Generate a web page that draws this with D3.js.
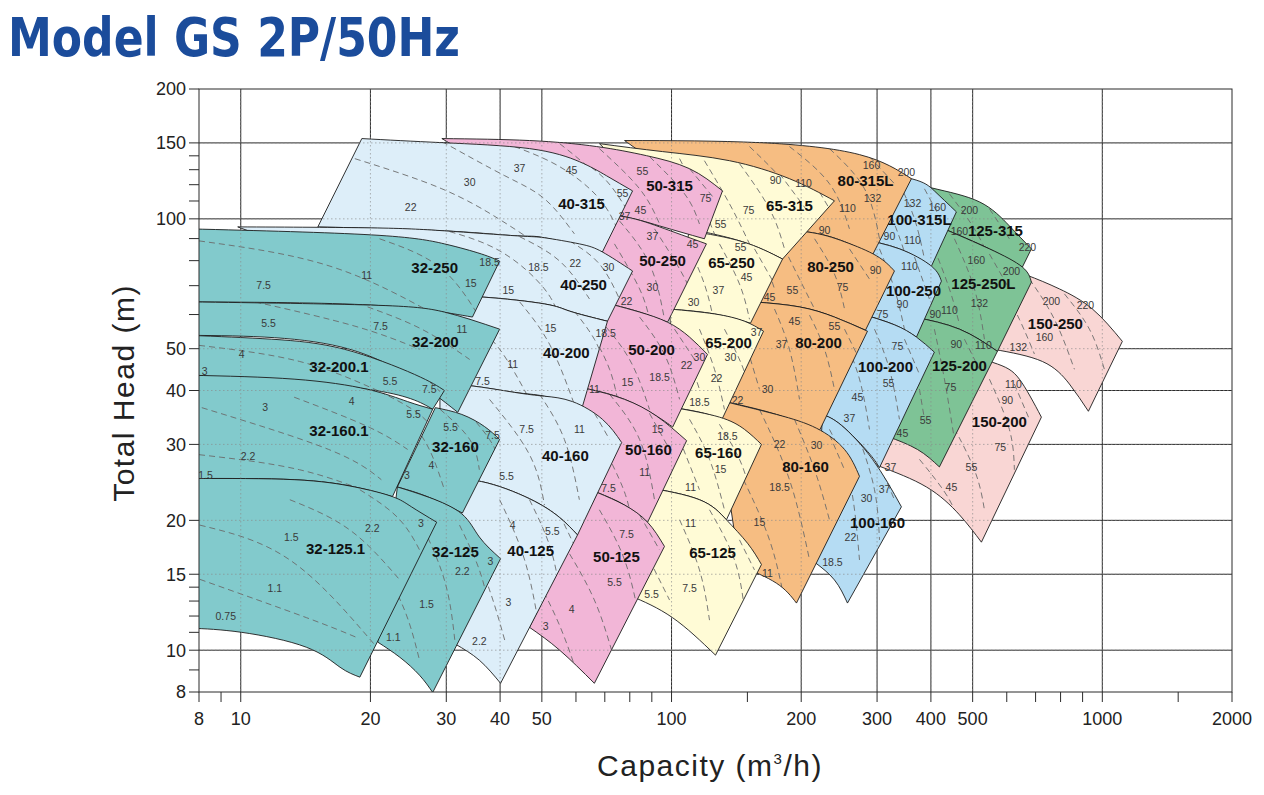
<!DOCTYPE html>
<html>
<head>
<meta charset="utf-8">
<title>Model GS 2P/50Hz</title>
<script src="https://cdn.jsdelivr.net/npm/d3@7"></script>
<style>
  body { margin: 0; background: #fff; }
</style>
</head>
<body>
<svg id="chart" width="1264" height="795"></svg>
<script>
// axis ticks (m3/h and m)
const xTicks = [8, 10, 20, 30, 40, 50, 100, 200, 300, 400, 500, 1000, 2000];
const xMinor = [9, 60, 70, 80, 90, 150, 600, 700, 800, 900, 1500];
const xGrid = [10, 20, 30, 40, 50, 100, 200, 300, 400, 500, 1000];
const yTicks = [8, 10, 15, 20, 30, 40, 50, 100, 150, 200];
const yMinor = [9, 11, 12, 13, 14, 60, 70, 80, 90, 110, 120, 130, 140];
const yGrid = [10, 15, 20, 30, 40, 50, 100, 150];

// each pump: top curve, bottom curve (left -> right, last point = lower right corner),
// label point, motor kW marks and dashed kW lines, all in [Q m3/h, H m]
const fam32 = [
  { name: "32-250", at: [28.2, 76.9],
    top: [[7.6, 94.8], [20.1, 91.8], [29.7, 87.5], [36.2, 82.9], [39.9, 79.8]],
    bottom: [[7.6, 64.2], [20.1, 63.1], [34.5, 59.2]],
    kw: [["7.5", 11.3, 70.2], ["11", 19.6, 74.1], ["15", 34.2, 71.0], ["18.5", 37.8, 79.4]],
    dash: [[[8.0, 88.9], [16.1, 77.7], [28.95, 59.2]], [[21.0, 89.9], [28.95, 77.3], [35.8, 59.2]]] },
  { name: "32-200", at: [28.3, 52.0],
    top: [[7.6, 64.2], [20.1, 63.1], [29.7, 60.8], [39.9, 55.5]],
    bottom: [[7.6, 53.7], [17.9, 49.85], [31.9, 35.6]],
    kw: [["5.5", 11.6, 57.3], ["7.5", 21.1, 56.4], ["11", 32.6, 55.5]],
    dash: [[[10.8, 64.2], [18.4, 56.4], [26.0, 49.85]], [[19.7, 62.5], [26.3, 55.5], [34.0, 47.2]]] },
  { name: "32-200.1", at: [16.9, 45.5],
    top: [[7.6, 53.7], [11.8, 52.6], [17.4, 49.85], [25.3, 43.6], [29.7, 40.0]],
    bottom: [[7.6, 43.4], [19.7, 40.25], [27.9, 36.2]],
    kw: [["4", 10.05, 48.5], ["3", 8.25, 44.3], ["5.5", 22.2, 42.0], ["7.5", 27.4, 40.25]],
    dash: [[[8.0, 50.9], [13.7, 46.7], [21.0, 39.8]], [[13.7, 53.2], [22.2, 47.8], [29.0, 39.8]]] },
  { name: "32-160.1", at: [16.9, 32.2],
    top: [[7.6, 43.4], [13.3, 42.5], [19.7, 40.25], [24.4, 37.7], [27.9, 36.2]],
    bottom: [[7.6, 25.0], [13.3, 24.85], [18.4, 23.9], [22.5, 22.7]],
    kw: [["3", 11.4, 36.5], ["4", 18.1, 37.7], ["5.5", 25.2, 35.2], ["2.2", 10.4, 28.1], ["1.5", 8.29, 25.4]],
    dash: [[[8.12, 36.5], [16.0, 29.2], [21.2, 24.85]], [[13.3, 38.6], [19.7, 33.0], [24.4, 29.2]],
           [[21.0, 39.8], [26.0, 35.2], [29.0, 30.8]], [[8.0, 28.4], [13.7, 26.2], [21.0, 22.7]]] },
  { name: "32-160", at: [31.5, 29.7],
    top: [[28.3, 36.5], [32.6, 35.2], [36.8, 33.0], [39.9, 30.8]],
    bottom: [[23.1, 23.9], [27.1, 22.7], [32.7, 20.8]],
    kw: [["5.5", 30.7, 32.9], ["7.5", 38.4, 31.5], ["4", 27.7, 26.8], ["3", 24.3, 25.5]],
    dash: [[[29.0, 36.2], [34.0, 30.8], [35.8, 26.2]], [[24.7, 34.3], [27.4, 29.2], [29.7, 23.55]],
           [[34.0, 35.2], [37.8, 30.8], [39.9, 27.7]]] },
  { name: "32-125", at: [31.5, 16.9],
    top: [[23.1, 23.9], [27.4, 22.6], [32.6, 20.7], [35.8, 18.3], [40.1, 16.3]],
    bottom: [[20.8, 10.44], [23.4, 9.63], [26.0, 8.75], [27.9, 7.98]],
    kw: [["2.2", 32.7, 15.2], ["1.5", 27.0, 12.8], ["1.1", 22.6, 10.7], ["3", 38.0, 16.1]],
    dash: [[[21.0, 16.19], [24.0, 12.39], [26.0, 9.48]], [[26.0, 20.06], [29.7, 14.55], [31.4, 10.55]],
           [[32.2, 19.5], [35.8, 15.35], [37.8, 12.39]]] },
  { name: "32-125.1", at: [16.6, 17.2],
    top: [[7.6, 25.0], [13.3, 24.85], [18.4, 23.9], [22.5, 22.7], [24.9, 21.5], [28.5, 19.8]],
    bottom: [[7.6, 11.25], [10.05, 11.0], [14.2, 10.16], [17.0, 9.13], [18.9, 8.66]],
    kw: [["1.5", 13.1, 18.3], ["2.2", 20.2, 19.2], ["3", 26.2, 19.7], ["1.1", 12.0, 13.9], ["0.75", 9.23, 12.0]],
    dash: [[[8.03, 14.6], [14.2, 11.9], [18.6, 10.7]], [[8.03, 19.5], [13.0, 16.19], [20.5, 10.27]],
           [[13.0, 22.33], [17.9, 19.01], [23.4, 14.55]], [[18.9, 23.55], [23.4, 20.06], [26.7, 16.19]]] }
];

const fam40 = [
  { name: "40-315", at: [61.8, 108.4],
    top: [[19.1, 153.5], [29.3, 150.2], [46.8, 145.5], [61.1, 135.7], [70.6, 125.9], [81.2, 116.1]],
    bottom: [[15.1, 95.8], [29.7, 93.8], [43.9, 91.3], [50.7, 90.4], [69.1, 83.8]],
    kw: [["22", 24.8, 106.1], ["30", 34.0, 121.3], ["37", 44.4, 130.7], ["45", 58.6, 129.3], ["55", 77.0, 114.3]],
    dash: [[[18.4, 137.9], [29.3, 117.4], [39.7, 100], [46.8, 89.9]], [[29.3, 151.1], [41.0, 125.9], [50.7, 111.3], [59.5, 92.3]],
           [[43.2, 147.1], [55.0, 132.1], [68.0, 111.3], [75.7, 92.3]], [[59.5, 139.4], [69.9, 123.9], [79.9, 102.7]]] },
  { name: "40-250", at: [62.5, 70.2],
    top: [[9.84, 95.8], [20.1, 95.3], [29.7, 93.8], [43.9, 91.3], [50.7, 90.4], [61.1, 87.5], [69.1, 83.8], [81.2, 75.7]],
    bottom: [[26.0, 66.6], [36.2, 65.9], [50.7, 63.5], [58.0, 61.1], [71.0, 57.9]],
    kw: [["15", 41.8, 68.1], ["18.5", 49.1, 77.3], ["22", 59.8, 79.0], ["30", 71.4, 77.3]],
    dash: [[[29.0, 94.8], [39.9, 84.3], [50.7, 68.8], [55.0, 58.5]], [[44.4, 90.9], [55.0, 79.8], [64.5, 65.2]],
           [[58.0, 88.9], [68.0, 78.6], [75.7, 65.2]]] },
  { name: "40-200", at: [57.0, 48.8],
    top: [[26.0, 66.6], [36.2, 65.9], [50.7, 63.5], [58.0, 61.1], [71.0, 57.9]],
    bottom: [[29.0, 41.2], [34.3, 41.0], [43.2, 39.6], [50.7, 38.8], [62.1, 36.7]],
    kw: [["7.5", 36.4, 42.0], ["11", 42.8, 46.0], ["15", 52.4, 55.8], ["18.5", 70.3, 54.3]],
    dash: [[[34.0, 58.5], [39.9, 49.85], [46.8, 38.15]], [[44.4, 64.2], [52.1, 51.2], [59.5, 37.1]],
           [[59.5, 61.1], [66.2, 52.6], [69.9, 46.0]]] },
  { name: "40-160", at: [56.7, 28.3],
    top: [[29.0, 41.2], [34.3, 41.0], [43.2, 39.6], [50.7, 38.8], [58.9, 37.7], [69.1, 34.3], [76.6, 30.3]],
    bottom: [[29.0, 24.85], [36.2, 24.6], [46.8, 22.45], [55.0, 20.3], [60.5, 18.5]],
    kw: [["7.5", 46.1, 32.5], ["11", 61.1, 32.5], ["5.5", 41.4, 25.3]],
    dash: [[[37.8, 38.15], [46.8, 28.4], [50.7, 21.7]], [[49.4, 39.2], [56.4, 30.8], [61.1, 22.33]],
           [[64.5, 37.1], [71.8, 30.8]]] },
  { name: "40-125", at: [47.1, 17.0],
    top: [[29.0, 24.85], [36.2, 24.6], [46.8, 22.45], [55.0, 20.3], [60.5, 18.5]],
    bottom: [[31.5, 10.33], [35.8, 9.48], [40.1, 8.38]],
    kw: [["4", 42.8, 19.5], ["5.5", 52.9, 18.9], ["3", 41.8, 12.9], ["2.2", 35.8, 10.49]],
    dash: [[[34.0, 18.0], [37.8, 13.79], [41.0, 10.55]], [[39.9, 22.33], [45.6, 16.19], [49.4, 11.13]],
           [[46.8, 22.33], [52.1, 17.5], [55.0, 13.79]], [[55.0, 20.6], [59.5, 17.5]]] }
];

const fam50 = [
  { name: "50-315", at: [98.95, 119.3],
    top: [[29.3, 153.5], [46.8, 151.9], [67.0, 147.1], [87.5, 140.1], [110.1, 130.7], [131.3, 116.1]],
    bottom: [[55.0, 105.5], [75.7, 101.6], [93.8, 96.3], [119.2, 89.9]],
    kw: [["55", 85.6, 128.6], ["75", 119.9, 111.3], ["45", 84.7, 104.4], ["37", 77.8, 101.1]],
    dash: [[[55.0, 149.4], [68.0, 123.9], [75.7, 102.7]], [[68.0, 145.5], [84.3, 117.4], [93.8, 97.3]],
           [[88.9, 139.4], [107.2, 114.3], [116.1, 97.3]], [[110.1, 130.7], [125.8, 111.3]]] },
  { name: "50-250", at: [95.3, 79.8],
    top: [[55.0, 104.4], [75.7, 101.6], [93.8, 95.8], [120.5, 87.5]],
    bottom: [[73.7, 63.1], [84.3, 60.8], [97.9, 57.6]],
    kw: [["37", 90.3, 90.9], ["45", 111.9, 87.5], ["30", 90.3, 69.5], ["22", 78.6, 64.5]],
    dash: [[[75.7, 98.9], [88.9, 78.6], [96.3, 58.5]], [[91.3, 94.8], [104.4, 76.5], [113.1, 65.2]],
           [[73.7, 87.5], [84.3, 68.8], [88.9, 58.5]]] },
  { name: "50-200", at: [89.9, 49.85],
    top: [[73.7, 63.1], [84.3, 60.8], [97.9, 57.6], [110.1, 53.2], [121.2, 48.5]],
    bottom: [[55.0, 41.4], [64.5, 40.25], [77.8, 38.15], [92.3, 34.9], [100.6, 32.9]],
    kw: [["11", 66.2, 40.25], ["15", 79.0, 41.8], ["18.5", 93.8, 43.0], ["22", 108.4, 45.7], ["30", 116.1, 47.8]],
    dash: [[[68.0, 58.5], [79.9, 47.2], [88.9, 36.15]], [[84.3, 59.2], [96.3, 48.5], [104.4, 38.15]],
           [[101.6, 55.5], [113.1, 47.2]], [[64.5, 55.5], [71.8, 44.8], [75.7, 36.15]]] },
  { name: "50-160", at: [88.4, 29.2],
    top: [[55.0, 41.4], [64.5, 40.25], [77.8, 38.15], [92.3, 34.9], [108.4, 30.6]],
    bottom: [[67.3, 23.2], [77.8, 21.7], [88.0, 19.8]],
    kw: [["15", 92.8, 32.5], ["11", 86.6, 25.8], ["7.5", 71.4, 23.7]],
    dash: [[[71.8, 39.2], [84.3, 30.8], [91.3, 22.33]], [[86.6, 37.1], [98.95, 29.2]],
           [[64.5, 34.3], [75.7, 24.85], [79.9, 21.16]]] },
  { name: "50-125", at: [74.5, 16.5],
    top: [[67.3, 23.2], [77.8, 21.7], [88.0, 19.8], [96.3, 17.4]],
    bottom: [[46.8, 11.3], [55.0, 10.0], [66.2, 8.38]],
    kw: [["7.5", 78.6, 18.6], ["5.5", 73.7, 14.4], ["4", 58.6, 12.46], ["3", 51.0, 11.37]],
    dash: [[[48.1, 15.0], [55.0, 11.4], [61.1, 8.52]], [[56.4, 17.5], [66.2, 13.07], [73.7, 9.48]],
           [[68.0, 21.16], [77.8, 16.19], [84.3, 11.74]], [[84.3, 20.6], [93.8, 17.08]]] }
];

const fam65 = [
  { name: "65-315", at: [187.8, 107.2],
    top: [[68.0, 149.4], [95.3, 143.2], [136.3, 136.4], [187.8, 123.9], [238.9, 110.1]],
    bottom: [[110.1, 94.8], [146.1, 88.5], [181.0, 80.7]],
    kw: [["90", 174.3, 122.6], ["110", 202.5, 120.6], ["75", 150.9, 104.9], ["55", 129.9, 97.3]],
    dash: [[[104.4, 137.9], [116.1, 111.3], [125.8, 92.3]], [[119.2, 136.4], [136.3, 108.4], [151.7, 87.5]],
           [[143.8, 134.3], [168.8, 105.5], [182.9, 85.2]], [[178.1, 127.3], [209.1, 102.7]], [[214.8, 120.6], [232.6, 105.5]]] },
  { name: "65-250", at: [137.8, 79.0],
    top: [[110.1, 93.8], [146.1, 88.5], [181.0, 80.7]],
    bottom: [[98.95, 61.8], [125.8, 60.2], [152.5, 57.3]],
    kw: [["55", 144.6, 86.1], ["45", 149.3, 73.3], ["37", 128.5, 68.4], ["30", 112.5, 64.2]],
    dash: [[[110.1, 85.2], [119.2, 70.6], [125.2, 58.5]], [[129.2, 87.5], [143.8, 70.6], [151.7, 58.5]],
           [[155.8, 85.2], [173.4, 70.6]]] },
  { name: "65-200", at: [135.6, 51.5],
    top: [[98.95, 61.8], [125.8, 60.2], [147.7, 57.9], [163.5, 54.9]],
    bottom: [[101.6, 36.5], [119.2, 35.4], [130.6, 34.1]],
    kw: [["37", 157.5, 54.6], ["30", 137.0, 47.8], ["22", 127.2, 42.7], ["18.5", 116.1, 37.5]],
    dash: [[[116.1, 55.5], [125.8, 44.8], [132.7, 36.15]], [[132.7, 55.5], [145.4, 46.0], [153.3, 39.2]],
           [[107.2, 51.2], [116.1, 40.25]]] },
  { name: "65-160", at: [128.5, 28.7],
    top: [[101.6, 36.5], [129.2, 34.7], [147.7, 32.5], [161.7, 30.0]],
    bottom: [[86.6, 23.9], [116.1, 22.33], [134.1, 20.06]],
    kw: [["18.5", 134.8, 31.3], ["15", 129.9, 26.2], ["11", 110.7, 23.9]],
    dash: [[[110.1, 34.3], [122.5, 27.7], [132.7, 21.16]], [[129.2, 33.4], [143.8, 27.7], [151.7, 23.55]],
           [[104.4, 30.8], [116.1, 23.55]]] },
  { name: "65-125", at: [124.5, 16.8],
    top: [[86.6, 23.9], [116.1, 22.33], [134.1, 20.06], [150.1, 17.7], [161.7, 15.8]],
    bottom: [[79.9, 13.4], [100.5, 11.9], [126.5, 9.74]],
    kw: [["11", 110.7, 19.65], ["7.5", 110.1, 13.9], ["5.5", 89.9, 13.5]],
    dash: [[[104.4, 20.06], [116.1, 15.35], [122.5, 11.74]], [[122.5, 21.16], [140.0, 16.19], [147.7, 12.39]],
           [[88.9, 16.19], [98.95, 13.07]], [[143.8, 18.02], [155.8, 15.35]]] }
];

const fam80 = [
  { name: "80-315L", at: [282.0, 122.6],
    top: [[77.8, 151.9], [160.0, 150.2], [273.1, 140.9], [360.5, 123.9]],
    bottom: [[151.7, 94.8], [205.8, 93.3], [252.1, 88.5], [292.8, 82.5]],
    kw: [["160", 291.2, 132.8], ["200", 351.0, 128.0], ["132", 292.8, 111.3], ["110", 256.1, 105.5], ["90", 226.5, 94.3]],
    dash: [[[187.8, 147.1], [232.6, 120.6], [258.8, 94.8]], [[232.6, 145.5], [280.5, 117.4], [303.9, 89.9]],
           [[288.1, 139.4], [329.2, 120.6]], [[151.7, 147.1], [187.8, 117.4], [209.1, 94.8]]] },
  { name: "80-250", at: [233.9, 77.3],
    top: [[151.7, 94.8], [205.8, 93.3], [252.1, 88.5], [299.1, 82.1], [329.2, 75.7]],
    bottom: [[155.8, 64.2], [198.2, 62.5], [238.9, 59.2], [282.0, 55.2]],
    kw: [["90", 297.5, 76.1], ["75", 249.4, 69.2], ["55", 190.8, 68.1], ["45", 168.8, 65.9]],
    dash: [[[178.1, 89.9], [198.2, 72.5], [214.8, 61.8]], [[214.8, 89.9], [238.9, 74.5], [252.1, 61.8]],
           [[258.8, 85.2], [288.1, 72.5]], [[160.0, 87.5], [173.4, 68.8]]] },
  { name: "80-200", at: [219.4, 51.5],
    top: [[155.8, 64.2], [198.2, 62.5], [238.9, 59.2], [285.0, 54.9]],
    bottom: [[136.3, 37.5], [175.2, 35.2], [220.5, 32.3]],
    kw: [["37", 180.0, 51.2], ["55", 238.9, 56.4], ["45", 192.9, 57.9], ["30", 167.0, 40.25], ["22", 142.3, 37.9]],
    dash: [[[173.4, 61.8], [187.8, 49.85], [198.2, 38.15]], [[209.1, 59.8], [226.5, 49.85], [238.9, 40.25]],
           [[147.7, 52.6], [160.0, 40.25]], [[252.1, 55.5], [273.1, 47.2]]] },
  { name: "80-160", at: [204.7, 26.6],
    top: [[125.8, 38.2], [175.2, 35.2], [217.1, 32.7], [252.1, 29.2], [273.1, 25.3]],
    bottom: [[143.8, 15.7], [175.2, 14.3], [195.0, 12.86]],
    kw: [["22", 178.1, 30.0], ["30", 217.1, 29.8], ["18.5", 178.1, 23.9], ["15", 160.0, 19.8], ["11", 167.0, 15.1]],
    dash: [[[160.0, 36.15], [187.8, 24.85], [209.1, 16.19]], [[192.9, 34.3], [214.8, 26.2], [232.6, 20.06]],
           [[232.6, 31.6], [252.1, 26.2]], [[146.9, 24.85], [168.8, 18.02], [182.9, 13.07]]] }
];

const fam100 = [
  { name: "100-315L", at: [376.3, 99.5],
    top: [[258.8, 132.1], [360.5, 123.9], [407.5, 116.1], [458.4, 103.8]],
    bottom: [[273.1, 89.9], [338.1, 85.2], [401.1, 77.7]],
    kw: [["132", 362.5, 108.4], ["160", 414.2, 106.6], ["90", 320.5, 91.3], ["110", 362.5, 89.4]],
    dash: [[[303.9, 117.4], [329.2, 97.3], [347.3, 83.8]], [[338.1, 120.6], [366.4, 100], [386.5, 80.7]],
           [[386.5, 117.4], [427.7, 97.3]]] },
  { name: "100-250", at: [364.4, 68.1],
    top: [[273.1, 89.9], [338.1, 85.2], [401.1, 77.7], [423.1, 71.7]],
    bottom: [[276.1, 60.2], [329.2, 56.8], [370.3, 53.2]],
    kw: [["110", 356.7, 77.7], ["90", 343.6, 63.5], ["75", 308.8, 60.2]],
    dash: [[[303.9, 85.2], [329.2, 68.8], [347.3, 55.5]], [[366.4, 81.6], [396.8, 65.2]],
           [[280.5, 76.5], [295.9, 58.5]]] },
  { name: "100-200", at: [313.8, 45.5],
    top: [[276.1, 60.2], [329.2, 56.8], [370.3, 53.2], [407.5, 49.1]],
    bottom: [[224.1, 35.2], [248.1, 33.2], [285.0, 28.9], [303.9, 26.5]],
    kw: [["75", 334.5, 50.7], ["55", 318.9, 41.6], ["45", 270.1, 38.6], ["37", 258.8, 34.5]],
    dash: [[[295.9, 55.5], [320.5, 44.8], [338.1, 34.3]], [[252.1, 52.6], [273.1, 42.5], [288.1, 32.5]],
           [[347.3, 52.6], [376.3, 43.6]]] },
  { name: "100-160", at: [300.7, 19.7],
    top: [[224.1, 35.2], [248.1, 33.2], [292.8, 27.7], [341.7, 21.5]],
    bottom: [[214.8, 16.0], [238.9, 14.55], [256.1, 12.86]],
    kw: [["37", 312.1, 23.55], ["30", 283.5, 22.45], ["22", 260.2, 18.3], ["18.5", 236.4, 16.0]],
    dash: [[[232.6, 32.5], [258.8, 24.85], [273.1, 16.19]], [[273.1, 30.8], [295.9, 23.55], [303.9, 18.02]],
           [[303.9, 26.9], [329.2, 22.33]]] }
];

const fam125 = [
  { name: "125-315", at: [564.7, 93.8],
    top: [[303.9, 127.3], [401.1, 118.0], [518.4, 109.5], [608.5, 96.3], [684.5, 85.2]],
    bottom: [[418.6, 95.8], [546.9, 85.2], [652.3, 77.3]],
    kw: [["200", 491.4, 104.4], ["160", 465.9, 93.8], ["220", 670.0, 86.1]],
    dash: [[[441.6, 114.3], [504.7, 94.8], [546.9, 80.7]], [[546.9, 105.5], [608.5, 89.9]],
           [[386.5, 114.3], [430.0, 94.8]]] },
  { name: "125-250L", at: [529.7, 70.6],
    top: [[418.6, 95.8], [546.9, 85.2], [652.3, 77.3], [684.5, 71.3]],
    bottom: [[366.4, 59.2], [465.9, 55.5], [570.8, 49.3]],
    kw: [["160", 510.1, 80.2], ["200", 615.1, 75.7], ["132", 518.4, 63.8], ["110", 441.6, 61.5], ["90", 409.7, 60.2]],
    dash: [[[407.5, 85.2], [441.6, 68.8], [465.9, 57.0]], [[453.6, 89.9], [504.7, 68.8], [532.5, 52.6]],
           [[546.9, 82.9], [608.5, 68.8]]] },
  { name: "125-200", at: [465.9, 45.7],
    top: [[366.4, 59.2], [465.9, 55.5], [570.8, 49.3]],
    bottom: [[317.2, 31.3], [372.3, 29.2], [418.6, 26.6]],
    kw: [["90", 458.4, 51.2], ["110", 529.7, 50.9], ["75", 444.0, 40.7], ["55", 388.6, 34.1], ["45", 343.6, 31.9]],
    dash: [[[407.5, 55.5], [430.0, 42.5], [453.6, 30.8]], [[478.5, 52.6], [518.4, 44.8]],
           [[366.4, 47.2], [386.5, 34.3]]] }
];

const fam150 = [
  { name: "150-250", at: [778.2, 57.0],
    top: [[561.7, 78.6], [666.4, 74.1], [795.0, 68.8], [948.4, 61.8], [1113, 52.0]],
    bottom: [[558.8, 49.85], [726.0, 46.7], [838.7, 41.4], [928.3, 35.8]],
    kw: [["200", 761.7, 64.5], ["220", 913.5, 63.1], ["160", 733.8, 53.2], ["132", 638.5, 50.4]],
    dash: [[[677.2, 72.5], [774.0, 58.5], [861.4, 44.8]], [[816.5, 67.0], [933.3, 55.5], [1011, 44.8]],
           [[576.8, 72.5], [641.9, 58.5], [695.6, 48.6]]] },
  { name: "150-200", at: [576.8, 33.8],
    top: [[396.8, 51.2], [555.8, 46.5], [641.9, 42.5], [722.1, 34.7]],
    bottom: [[300.7, 26.8], [390.6, 23.9], [465.9, 20.6], [524.0, 17.8]],
    kw: [["110", 621.7, 41.4], ["90", 602.0, 38.0], ["75", 579.9, 29.6], ["55", 496.7, 26.6], ["45", 446.4, 23.9], ["37", 322.2, 26.6]],
    dash: [[[546.9, 42.5], [608.5, 32.5], [625.0, 26.2]], [[625.0, 41.4], [677.2, 34.3]],
           [[441.6, 34.3], [504.7, 26.2], [532.5, 21.16]], [[376.3, 27.7], [441.6, 22.33], [465.9, 19.01]]] }
];

// drawn bottom layer first: larger pumps lie under the smaller ones
const layers = [
  [fam150, "#f9d6d4"], [fam125, "#7ec396"], [fam100, "#b5dcf3"], [fam80, "#f6bd82"],
  [fam65, "#fffbd6"], [fam50, "#f2b6d7"], [fam40, "#ddeef9"], [fam32, "#82cacc"]
];

const svg = d3.select('#chart');
const x = d3.scaleLog().domain([8, 2000]).range([199, 1232]);
const y = d3.scaleLog().domain([8, 200]).range([692, 89]);
const defs = svg.append('defs');
defs.append('clipPath').attr('id', 'plot').append('rect')
  .attr('x', x(8)).attr('y', y(200)).attr('width', x(2000) - x(8)).attr('height', y(8) - y(200));

const labelFont = "'Liberation Sans', Arial, sans-serif";

// title
svg.append('text')
  .attr('x', 8).attr('y', 56)
  .attr('textLength', 452).attr('lengthAdjust', 'spacingAndGlyphs')
  .style('font-family', "'Liberation Sans Narrow', 'DejaVu Sans Condensed', 'Liberation Sans', sans-serif")
  .style('font-weight', 'bold').style('font-size', '54px')
  .attr('fill', '#1b4c9b')
  .text('Model GS 2P/50Hz');

// solid grid under the pump areas
const grid = svg.append('g').attr('stroke', '#2b2b2b').attr('stroke-width', 1);
grid.selectAll('.gx').data(xGrid).join('line').attr('class', 'gx')
  .attr('x1', d => x(d)).attr('x2', d => x(d)).attr('y1', y(200)).attr('y2', y(8));
grid.selectAll('.gy').data(yGrid).join('line').attr('class', 'gy')
  .attr('y1', d => y(d)).attr('y2', d => y(d)).attr('x1', x(8)).attr('x2', x(2000));

const curve = d3.line().x(d => x(d[0])).y(d => y(d[1])).curve(d3.curveNatural);
function outline(r) {
  const t = curve(r.top);
  const b = curve(r.bottom.slice().reverse());
  return t + 'L' + b.slice(1) + 'Z';
}

const plot = svg.append('g').attr('clip-path', 'url(#plot)');
let k = 0;
layers.forEach(([fam, color]) => {
  fam.forEach(r => {
    const d = outline(r), id = 'reg' + (k++);
    defs.append('clipPath').attr('id', id).append('path').attr('d', d);
    plot.append('path').attr('d', d).attr('fill', color);
    plot.append('g').attr('clip-path', `url(#${id})`)
      .selectAll('path').data(r.dash).join('path')
      .attr('d', curve).attr('fill', 'none')
      .attr('stroke', '#6b6b6b').attr('stroke-width', 0.9).attr('stroke-dasharray', '6,4');
    plot.append('path').attr('d', d).attr('fill', 'none')
      .attr('stroke', '#1c1c1c').attr('stroke-width', 0.9);
  });
});

// grid seen through the coloured areas
const dotted = plot.append('g').attr('stroke', '#8a8a8a').attr('stroke-width', 0.8)
  .attr('stroke-dasharray', '1.5,2.5').attr('opacity', 0.8);
dotted.selectAll('.dx').data(xGrid).join('line').attr('class', 'dx')
  .attr('x1', d => x(d)).attr('x2', d => x(d)).attr('y1', y(200)).attr('y2', y(8));
dotted.selectAll('.dy').data(yGrid).join('line').attr('class', 'dy')
  .attr('y1', d => y(d)).attr('y2', d => y(d)).attr('x1', x(8)).attr('x2', x(2000));

// kW marks and model names on top
const allPumps = layers.flatMap(l => l[0]);
const marks = svg.append('g').attr('clip-path', 'url(#plot)');
marks.selectAll('.kw').data(allPumps.flatMap(r => r.kw)).join('text').attr('class', 'kw')
  .attr('x', d => x(d[1])).attr('y', d => y(d[2])).attr('dy', '0.35em')
  .attr('text-anchor', 'middle')
  .style('font-family', labelFont).style('font-size', '10.5px')
  .attr('fill', '#3a3a3a')
  .text(d => d[0]);
marks.selectAll('.nm').data(allPumps).join('text').attr('class', 'nm')
  .attr('x', d => x(d.at[0])).attr('y', d => y(d.at[1])).attr('dy', '0.35em')
  .attr('text-anchor', 'middle')
  .style('font-family', labelFont).style('font-size', '15px').style('font-weight', 'bold')
  .attr('fill', '#111')
  .text(d => d.name);

// frame and axes
svg.append('rect').attr('x', x(8)).attr('y', y(200))
  .attr('width', x(2000) - x(8)).attr('height', y(8) - y(200))
  .attr('fill', 'none').attr('stroke', '#2b2b2b').attr('stroke-width', 1);

const ax = svg.append('g').attr('stroke', '#2b2b2b').attr('stroke-width', 1);
ax.selectAll('.ty').data(yTicks.concat(yMinor)).join('line').attr('class', 'ty')
  .attr('x1', x(8) - 10).attr('x2', x(8)).attr('y1', d => y(d)).attr('y2', d => y(d));
ax.selectAll('.tx').data(xTicks.concat(xMinor)).join('line').attr('class', 'tx')
  .attr('y1', y(8)).attr('y2', y(8) + 10).attr('x1', d => x(d)).attr('x2', d => x(d));

svg.append('g').selectAll('text').data(yTicks).join('text')
  .attr('x', x(8) - 13).attr('y', d => y(d)).attr('dy', '0.36em')
  .attr('text-anchor', 'end')
  .style('font-family', labelFont).style('font-size', '18px').attr('fill', '#222')
  .text(d => d);
svg.append('g').selectAll('text').data(xTicks).join('text')
  .attr('x', d => x(d)).attr('y', 725)
  .attr('text-anchor', 'middle')
  .style('font-family', labelFont).style('font-size', '18px').attr('fill', '#222')
  .text(d => d);

svg.append('text')
  .attr('transform', 'translate(134,393) rotate(-90)')
  .attr('text-anchor', 'middle')
  .style('font-family', labelFont).style('font-size', '30px').style('letter-spacing', '1.5px')
  .attr('fill', '#222')
  .text('Total Head (m)');

const xt = svg.append('text')
  .attr('x', 710).attr('y', 776)
  .attr('text-anchor', 'middle')
  .style('font-family', labelFont).style('font-size', '30px').style('letter-spacing', '1.5px')
  .attr('fill', '#222');
xt.append('tspan').text('Capacity (m');
xt.append('tspan').attr('dy', -12).style('font-size', '15px').text('3');
xt.append('tspan').attr('dy', 12).text('/h)');
</script>
</body>
</html>
